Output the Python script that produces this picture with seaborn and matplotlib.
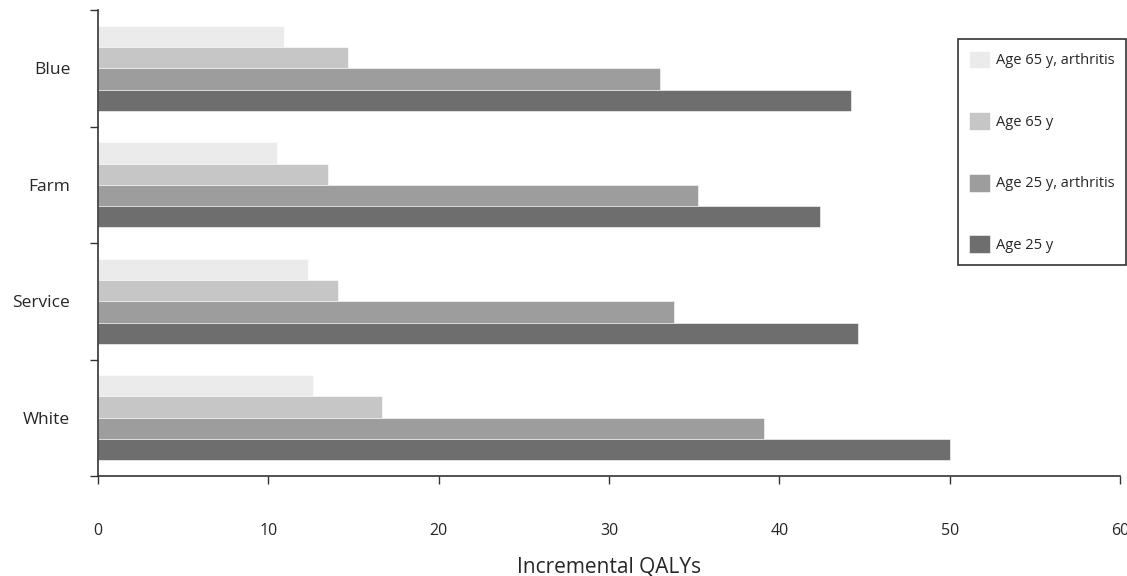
import matplotlib
matplotlib.use("Agg")
import matplotlib.pyplot as plt
import numpy as np
import pandas as pd
import seaborn as sns

# values
categories = ["Blue", "Farm", "Service", "White"]
series = ["Age 65 y, arthritis", "Age 65 y", "Age 25 y, arthritis", "Age 25 y"]
age65_arth = [10.9, 10.5, 12.3, 12.6]
age65 = [14.7, 13.5, 14.1, 16.7]
age25_arth = [33.0, 35.2, 33.8, 39.1]
age25 = [44.2, 42.4, 44.6, 50.0]
colors = ["#ebebeb", "#c6c6c6", "#9d9d9d", "#6e6e6e"]

rows = []
for name, vals in zip(series, [age65_arth, age65, age25_arth, age25]):
    for cat, v in zip(categories, vals):
        rows.append({"category": cat, "group": name, "qaly": v})
df = pd.DataFrame(rows)

sns.set_style("white")
plt.rcParams["font.family"] = ["Open Sans", "DejaVu Sans"]

fig = plt.figure(figsize=(11.27, 5.76), dpi=100)
ax = fig.add_axes([0.087, 0.1736, 0.9068, 0.809])

sns.barplot(data=df, y="category", x="qaly", hue="group", hue_order=series,
            order=categories, palette=colors, width=0.73, orient="h",
            edgecolor="white", linewidth=0.4, ax=ax)

ax.set_xlim(0, 60)
ax.set_ylim(3.5, -0.5)
ax.set_xticks(np.arange(0, 61, 10))
ax.set_yticks(range(len(categories)))
ax.set_yticks(np.arange(-0.5, 4.0, 1.0), minor=True)
ax.tick_params(axis="y", which="major", length=0, pad=20, labelsize=12.5)
ax.tick_params(axis="y", which="minor", length=6, width=1, color="#333333", left=True)
ax.tick_params(axis="x", which="major", length=6, width=1, color="#333333",
               bottom=True, pad=28, labelsize=11.5)
for s in ["top", "right"]:
    ax.spines[s].set_visible(False)
for s in ["left", "bottom"]:
    ax.spines[s].set_color("#333333")
    ax.spines[s].set_linewidth(1.2)

ax.set_ylabel("")
ax.set_xlabel("Incremental QALYs", fontsize=15)
ax.xaxis.set_label_coords(0.5, -0.172)

handles, labels = ax.get_legend_handles_labels()
leg = ax.legend(handles, labels, loc="upper right",
                bbox_to_anchor=(1126 / 1127, 1 - 39 / 576),
                bbox_transform=fig.transFigure, frameon=True, fancybox=False,
                edgecolor="black", fontsize=10.5, labelspacing=3.0,
                handlelength=1.4, handleheight=1.5, handletextpad=0.4,
                borderpad=0.8, borderaxespad=0)
leg.get_frame().set_linewidth(1.2)

fig.savefig("out.png", dpi=100)
